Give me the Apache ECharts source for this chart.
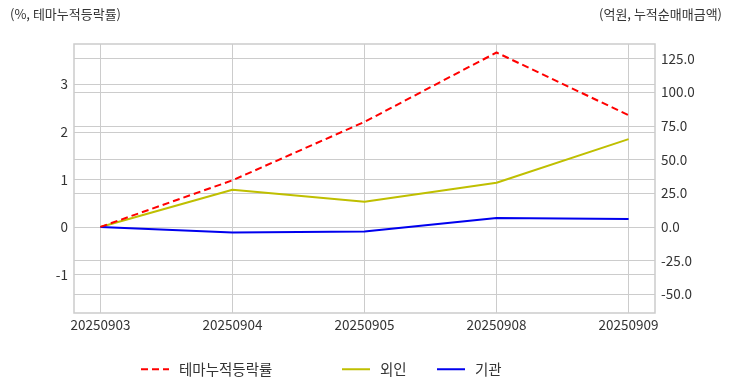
<!DOCTYPE html>
<html><head><meta charset="utf-8">
<script src="https://cdn.jsdelivr.net/npm/echarts@6/dist/echarts.min.js"></script>
<style>html,body{margin:0;padding:0;background:#fff}#c{width:732px;height:392px}</style>
</head><body><div id="c"></div>
<script>
const dates = ['20250903','20250904','20250905','20250908','20250909'];
const themeRate = [0, 0.98, 2.21, 3.67, 2.35];
const foreign = [0, 27.6, 18.7, 32.8, 65.2];
const institution = [0, -4.2, -3.4, 6.7, 5.8];
const leftTicks = [-1, 0, 1, 2, 3];
const rightTicks = [-50, -25, 0, 25, 50, 75, 100, 125];
const xTicks = [0, 1, 2, 3, 4];

const FONT = '"Noto Sans CJK KR", "Noto Sans", sans-serif';
const pts = arr => arr.map((v, i) => [i, v]);
const chart = echarts.init(document.getElementById('c'), null, {renderer: 'canvas'});
const gridLine = {show: true, lineStyle: {color: '#cccccc', width: 1}};
const mkLegend = (name, left) => ({
  data: [name], left: left, top: 357, itemWidth: 28, itemHeight: 12, itemGap: 12,
  itemStyle: {color: 'rgba(0,0,0,0)', borderWidth: 0},
  textStyle: {fontFamily: FONT, fontSize: 14.5, color: '#333', padding: [0, 0, 0, 5]}
});
chart.setOption({
  animation: false,
  textStyle: {fontFamily: FONT},
  graphic: [
    {type: 'text', left: 10, top: 8, style: {text: '(%, 테마누적등락률)', font: '13px ' + FONT, fill: '#333'}},
    {type: 'text', right: 10, top: 8, style: {text: '(억원, 누적순매매금액)', font: '13px ' + FONT, fill: '#333'}}
  ],
  legend: [mkLegend('테마누적등락률', 135), mkLegend('외인', 336), mkLegend('기관', 431)],
  grid: {left: 74, right: 77, top: 44, bottom: 79, show: true, borderColor: '#cccccc', borderWidth: 1.5, containLabel: false},
  xAxis: {
    type: 'value', min: -0.2, max: 4.2,
    axisLine: {show: false},
    axisTick: {show: false, customValues: xTicks},
    axisLabel: {customValues: xTicks, formatter: v => dates[Math.round(v)] || '', fontSize: 13.5, color: '#333', margin: 5, fontFamily: FONT},
    splitLine: gridLine
  },
  yAxis: [
    {type: 'value', min: -1.812, max: 3.849, position: 'left',
     axisLine: {show: false},
     axisTick: {show: false, customValues: leftTicks},
     axisLabel: {customValues: leftTicks, fontSize: 13.5, color: '#333', margin: 6, fontFamily: FONT, formatter: v => String(v)},
     splitLine: gridLine},
    {type: 'value', min: -63.9, max: 135.8, position: 'right',
     axisLine: {show: false},
     axisTick: {show: false, customValues: rightTicks},
     axisLabel: {customValues: rightTicks, fontSize: 13.5, color: '#333', margin: 6, fontFamily: FONT, formatter: v => v.toFixed(1)},
     splitLine: gridLine}
  ],
  series: [
    {name: '테마누적등락률', type: 'line', yAxisIndex: 0, data: pts(themeRate), symbol: 'none',
     lineStyle: {color: '#ff0000', width: 2, type: [7, 4]}, itemStyle: {color: '#ff0000'}, z: 3},
    {name: '외인', type: 'line', yAxisIndex: 1, data: pts(foreign), symbol: 'none',
     lineStyle: {color: '#bfbf00', width: 2}, itemStyle: {color: '#bfbf00'}, z: 2},
    {name: '기관', type: 'line', yAxisIndex: 1, data: pts(institution), symbol: 'none',
     lineStyle: {color: '#0000ee', width: 2}, itemStyle: {color: '#0000ee'}, z: 2}
  ]
});
</script></body></html>
